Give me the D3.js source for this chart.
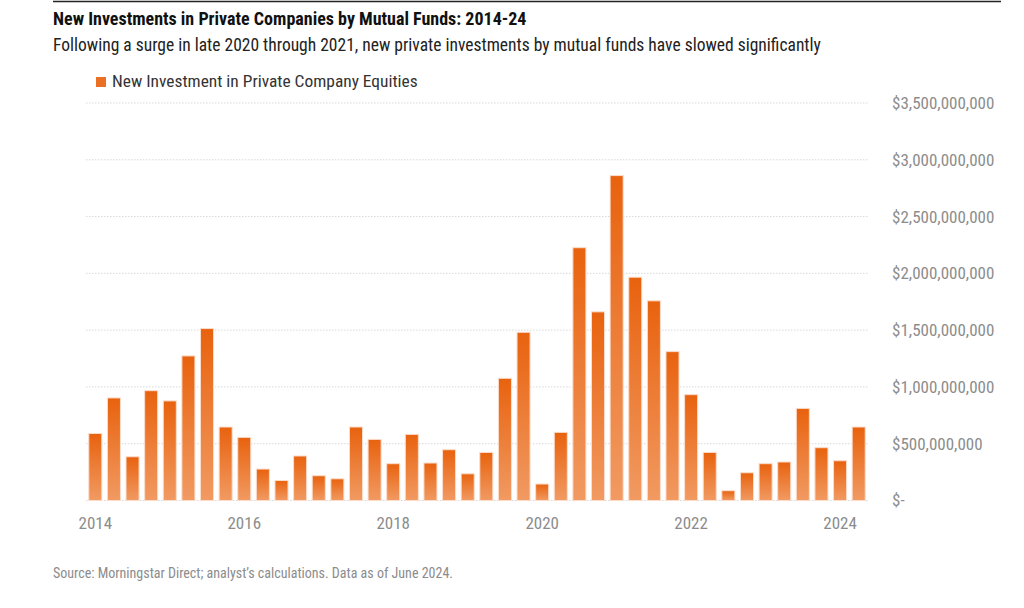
<!DOCTYPE html>
<html>
<head>
<meta charset="utf-8">
<script src="https://cdn.jsdelivr.net/npm/d3@7"></script>
<style>
  body { margin: 0; background: #fff; }
  svg { font-family: "Liberation Sans Narrow", "Roboto Condensed", "Roboto", sans-serif; }
</style>
</head>
<body>
<svg id="chart" width="1024" height="608"></svg>
<script>
// quarterly data, 2014 Q1 .. 2024 Q2
const years = d3.range(2014, 2025);
const quarters = years.flatMap(y => [1, 2, 3, 4].map(q => `${y}Q${q}`)).slice(0, 42);
const investments = [
    590e6, 903e6, 385e6, 967e6, 877e6, 1273e6, 1514e6, 647e6,
    556e6, 277e6, 176e6, 392e6, 218e6, 191e6, 647e6, 538e6,
    324e6, 582e6, 330e6, 447e6, 235e6, 423e6, 1076e6, 1481e6,
    145e6, 600e6, 2226e6, 1661e6, 2861e6, 1966e6, 1758e6, 1311e6,
    932e6, 423e6, 86e6, 244e6, 324e6, 339e6, 811e6, 465e6,
    350e6, 647e6
];
const yTicks = [0, 5e8, 1e9, 1.5e9, 2e9, 2.5e9, 3e9, 3.5e9];
const xLabels = ["2014Q1", "2016Q1", "2018Q1", "2020Q1", "2022Q1", "2024Q1"];

const svg = d3.select("#chart");

const x = d3.scaleBand()
    .domain(quarters)
    .range([86, 868])
    .paddingInner(0.3)
    .paddingOuter(0.15);

const y = d3.scaleLinear()
    .domain([0, 3.5e9])
    .range([500.5, 103]);

// gradient for bars
const grad = svg.append("defs").append("linearGradient")
    .attr("id", "barGrad")
    .attr("x1", 0).attr("y1", 0).attr("x2", 0).attr("y2", 1);
grad.append("stop").attr("offset", "0%").attr("stop-color", "#e8620e");
grad.append("stop").attr("offset", "100%").attr("stop-color", "#f19a62");

// top rule
svg.append("line")
    .attr("x1", 53).attr("x2", 1001)
    .attr("y1", 1.5).attr("y2", 1.5)
    .attr("stroke", "#222").attr("stroke-width", 1.5);

// titles
svg.append("text")
    .attr("x", 53).attr("y", 25)
    .attr("font-size", 18).attr("font-weight", "bold").attr("fill", "#111")
    .text("New Investments in Private Companies by Mutual Funds: 2014-24");

svg.append("text")
    .attr("x", 53).attr("y", 51)
    .attr("font-size", 17.5).attr("fill", "#222")
    .text("Following a surge in late 2020 through 2021, new private investments by mutual funds have slowed significantly");

// legend
svg.append("rect")
    .attr("x", 96).attr("y", 77).attr("width", 10).attr("height", 10)
    .attr("fill", "#ea7026");
svg.append("text")
    .attr("x", 112).attr("y", 87)
    .attr("font-size", 17.4).attr("fill", "#333")
    .text("New Investment in Private Company Equities");

// gridlines
svg.append("g")
    .selectAll("line")
    .data(yTicks)
    .join("line")
    .attr("x1", 86).attr("x2", 868)
    .attr("y1", d => y(d)).attr("y2", d => y(d))
    .attr("stroke", "#d9d9d9")
    .attr("stroke-width", 1)
    .attr("stroke-dasharray", "1.5,1.5");

// y axis on the right
const fmt = d3.format("$,.0f");
const yAxis = d3.axisRight(y)
    .tickValues(yTicks)
    .tickSize(0)
    .tickPadding(0)
    .tickFormat(d => d === 0 ? "$-" : fmt(d));

svg.append("g")
    .attr("transform", "translate(892,0)")
    .call(yAxis)
    .attr("font-family", null)
    .attr("font-size", null)
    .call(g => g.select(".domain").remove())
    .call(g => g.selectAll("text")
        .attr("font-size", 17)
        .attr("fill", "#8c8c8c"));

// bars
svg.append("g")
    .selectAll("rect")
    .data(investments)
    .join("rect")
    .attr("x", (d, i) => x(quarters[i]))
    .attr("y", d => y(d))
    .attr("width", x.bandwidth())
    .attr("height", d => y(0) - y(d))
    .attr("fill", "url(#barGrad)")
    .attr("stroke", "#fbdccb")
    .attr("stroke-width", 1);

// x axis labels
const xAxis = d3.axisBottom(x)
    .tickValues(xLabels)
    .tickSize(0)
    .tickPadding(0)
    .tickFormat(d => d.slice(0, 4));

svg.append("g")
    .attr("transform", "translate(0,517)")
    .call(xAxis)
    .attr("font-family", null)
    .attr("font-size", null)
    .call(g => g.select(".domain").remove())
    .call(g => g.selectAll("text")
        .attr("font-size", 17)
        .attr("fill", "#8c8c8c"));

// source
svg.append("text")
    .attr("x", 53).attr("y", 578)
    .attr("font-size", 14).attr("fill", "#8c8c8c")
    .text("Source: Morningstar Direct; analyst\u2019s calculations. Data as of June 2024.");
</script>
</body>
</html>
